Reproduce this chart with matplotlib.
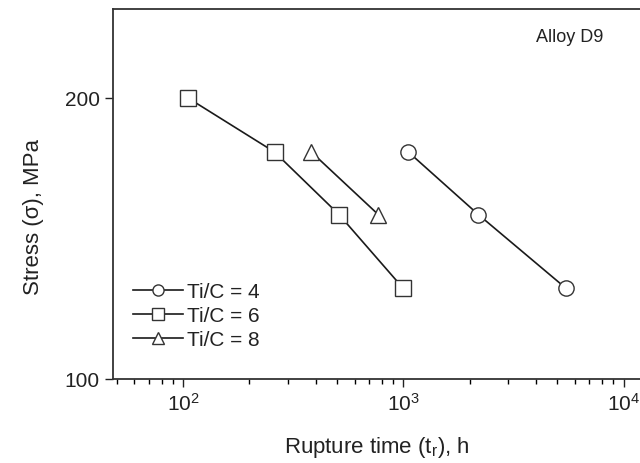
import matplotlib
matplotlib.use("Agg")
import matplotlib.pyplot as plt
from matplotlib.ticker import FixedLocator, FixedFormatter, LogLocator, NullFormatter, NullLocator

plt.rcParams['font.family'] = ['Liberation Sans', 'DejaVu Sans']

# data
t_c4 = [1054, 2190, 5490]
s_c4 = [175, 150, 125]
t_c6 = [105, 260, 510, 1000]
s_c6 = [200, 175, 150, 125]
t_c8 = [382, 769]
s_c8 = [175, 150]
labels = ["Ti/C = 4", "Ti/C = 6", "Ti/C = 8"]

fig = plt.figure(figsize=(6.4, 4.64), dpi=100)
ax = fig.add_axes([113/640, 84/464, 528/640, 370/464])

style = dict(color="#1a1a1a", lw=1.2, mfc="white", mec="#333333", mew=1.0, ms=11)
ax.plot(t_c4, s_c4, marker="o", label=labels[0], **style)
ax.plot(t_c6, s_c6, marker="s", label=labels[1], **style)
ax.plot(t_c8, s_c8, marker="^", label=labels[2], **style)

ax.set_xscale("log")
ax.set_yscale("log")
ax.set_xlim(48, 12000)
ax.set_ylim(100, 249)

ax.xaxis.set_major_locator(LogLocator(base=10, numticks=10))
ax.xaxis.set_minor_locator(LogLocator(base=10, subs=range(2, 10), numticks=20))
ax.xaxis.set_minor_formatter(NullFormatter())
ax.yaxis.set_major_locator(FixedLocator([100, 200]))
ax.yaxis.set_major_formatter(FixedFormatter(["100", "200"]))
ax.yaxis.set_minor_locator(NullLocator())

ax.tick_params(which="major", direction="out", length=6, width=1, labelsize=15, colors="#222222")
ax.tick_params(which="minor", direction="out", length=3.5, width=1)
for sp in ax.spines.values():
    sp.set_linewidth(1.3)
    sp.set_color("#333333")

ax.set_xlabel("Rupture time ($\\mathregular{t_r}$), h", fontsize=16, color="#222222", labelpad=14)
ax.set_ylabel("Stress (σ), MPa", fontsize=16, color="#222222")
ax.yaxis.set_label_coords(-0.13, 0.44)

ax.text(0.865, 0.927, "Alloy D9", transform=ax.transAxes, fontsize=13, color="#222222",
        ha="center", va="center")

leg = ax.legend(loc="lower left", bbox_to_anchor=(0.038, 0.08), frameon=False, fontsize=15,
                handlelength=2.4, labelspacing=0.25, handletextpad=0.2,
                borderpad=0, borderaxespad=0)
for h in leg.legend_handles:
    h.set_markersize(8)
for t in leg.get_texts():
    t.set_color("#222222")

fig.savefig("out.png", dpi=100)
